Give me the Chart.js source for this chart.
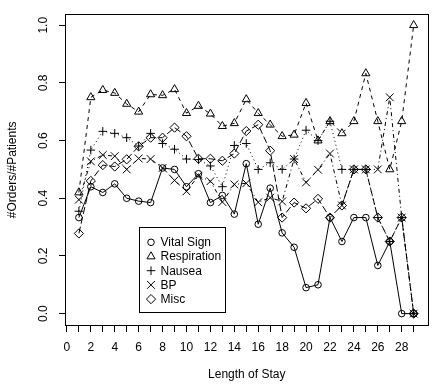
<!DOCTYPE html>
<html>
<head>
<meta charset="utf-8">
<script src="https://cdn.jsdelivr.net/npm/chart.js@4.4.1/dist/chart.umd.min.js"></script>
<style>
  html, body { margin: 0; padding: 0; background: #fff; }
  #wrap { width: 435px; height: 386px; }
</style>
</head>
<body>
<div id="wrap"><canvas id="chart" width="435" height="386"></canvas></div>
<script>
// length of stay (days)
const days = [1, 2, 3, 4, 5, 6, 7, 8, 9, 10, 11, 12, 13, 14, 15, 16, 17, 18, 19, 20, 21, 22, 23, 24, 25, 26, 27, 28, 29];

// #orders / #patients per category
const vitalSign   = [0.333, 0.44, 0.42, 0.45, 0.40, 0.39, 0.385, 0.505, 0.5, 0.44, 0.485, 0.385, 0.41, 0.345, 0.52, 0.31, 0.435, 0.28, 0.23, 0.09, 0.1, 0.333, 0.25, 0.333, 0.333, 0.167, 0.25, 0, 0];
const respiration = [0.42, 0.75, 0.775, 0.765, 0.727, 0.70, 0.76, 0.757, 0.778, 0.695, 0.72, 0.693, 0.65, 0.66, 0.743, 0.695, 0.655, 0.615, 0.62, 0.73, 0.60, 0.667, 0.625, 0.667, 0.833, 0.667, 0.5, 0.667, 1.0];
const nausea      = [0.355, 0.567, 0.632, 0.625, 0.61, 0.581, 0.625, 0.59, 0.57, 0.536, 0.534, 0.512, 0.44, 0.583, 0.59, 0.5, 0.523, 0.5, 0.536, 0.636, 0.6, 0.667, 0.5, 0.5, 0.5, 0.333, 0.25, 0.333, 0];
const bp          = [0.395, 0.528, 0.55, 0.546, 0.5, 0.538, 0.536, 0.505, 0.462, 0.424, 0.478, 0.459, 0.387, 0.448, 0.452, 0.386, 0.402, 0.389, 0.536, 0.455, 0.499, 0.555, 0.375, 0.5, 0.5, 0.5, 0.75, 0.333, 0];
const misc        = [0.278, 0.46, 0.515, 0.51, 0.535, 0.58, 0.61, 0.61, 0.645, 0.615, 0.537, 0.537, 0.53, 0.555, 0.633, 0.655, 0.565, 0.333, 0.385, 0.365, 0.398, 0.333, 0.375, 0.5, 0.5, 0.333, 0.25, 0.333, 0];

const seriesNames = ['Vital Sign', 'Respiration', 'Nausea', 'BP', 'Misc'];

const xTicks = [0, 1, 2, 3, 4, 5, 6, 7, 8, 9, 10, 11, 12, 13, 14, 15, 16, 17, 18, 19, 20, 21, 22, 23, 24, 25, 26, 27, 28, 29];
const yTicks = [0, 0.2, 0.4, 0.6, 0.8, 1.0];

const FONT = 'Liberation Sans, Arial, Helvetica, sans-serif';

// R-like symbols and line types
const styles = [
  { pointStyle: 'circle',   radius: 3.3, dash: [] },
  { pointStyle: 'triangle', radius: 4.7, dash: [4, 4] },
  { pointStyle: 'cross',    radius: 4.3, dash: [1, 3] },
  { pointStyle: 'crossRot', radius: 5.5, dash: [1, 3, 4, 3] },
  { pointStyle: 'rectRot',  radius: 4.6, dash: [7, 3] }
];

const allSeries = [vitalSign, respiration, nausea, bp, misc];

const datasets = allSeries.map((vals, i) => ({
  label: seriesNames[i],
  data: days.map((d, j) => ({ x: d, y: vals[j] })),
  borderColor: '#000',
  borderWidth: 1,
  borderDash: styles[i].dash,
  pointStyle: styles[i].pointStyle,
  pointRadius: styles[i].radius,
  pointBorderColor: '#000',
  pointBackgroundColor: 'rgba(0,0,0,0)',
  pointBorderWidth: 1,
  fill: false,
  tension: 0
}));

// box around the plot + legend inside the plot
const boxPlugin = {
  id: 'boxPlugin',
  afterDraw(chart) {
    const { ctx, chartArea: a, scales } = chart;
    ctx.save();
    ctx.strokeStyle = '#000';
    ctx.lineWidth = 1;
    ctx.setLineDash([]);
    ctx.strokeRect(Math.round(a.left) + 0.5, Math.round(a.top) + 0.5,
      Math.round(a.right - a.left) - 1, Math.round(a.bottom - a.top) - 1);

    // legend, top-left corner at (6, 0.3) in data units
    const lx = Math.round(scales.x.getPixelForValue(6)) + 0.5;
    const ly = Math.round(scales.y.getPixelForValue(0.3)) + 0.5;
    const w = 86, h = 85;
    ctx.fillStyle = '#fff';
    ctx.fillRect(lx, ly, w, h);
    ctx.strokeRect(lx, ly, w, h);

    ctx.font = '12px ' + FONT;
    ctx.textBaseline = 'middle';
    ctx.textAlign = 'left';
    seriesNames.forEach((name, i) => {
      const cy = ly + 14.8 + i * 14.2;
      ctx.strokeStyle = '#000';
      ctx.fillStyle = 'rgba(0,0,0,0)';
      ctx.lineWidth = 1;
      Chart.helpers.drawPoint(ctx, {
        pointStyle: styles[i].pointStyle,
        radius: styles[i].radius,
        rotation: 0,
        borderWidth: 1
      }, lx + 11.5, cy);
      ctx.fillStyle = '#000';
      ctx.fillText(name, lx + 21, cy + 0.5);
    });
    ctx.restore();
  }
};

new Chart(document.getElementById('chart'), {
  type: 'line',
  data: { datasets },
  options: {
    responsive: false,
    maintainAspectRatio: false,
    devicePixelRatio: 1,
    animation: false,
    events: [],
    layout: { padding: { top: 2, right: 3, left: 0, bottom: 0 } },
    plugins: {
      legend: { display: false },
      tooltip: { enabled: false }
    },
    scales: {
      x: {
        type: 'linear',
        min: -0.16,
        max: 30.24,
        afterBuildTicks: s => { s.ticks = xTicks.map(v => ({ value: v })); },
        afterFit: s => { s.height = 60; },
        border: { display: false },
        grid: { drawOnChartArea: false, drawTicks: true, tickLength: 6, color: '#000', lineWidth: 1 },
        ticks: {
          autoSkip: false,
          maxRotation: 0,
          minRotation: 0,
          padding: 8.5,
          color: '#000',
          font: { family: FONT, size: 12 },
          callback: v => (v % 2 === 0 && v <= 28 ? String(v) : '')
        },
        title: {
          display: true,
          text: 'Length of Stay',
          color: '#000',
          font: { family: FONT, size: 12 },
          padding: { top: 0, bottom: 4.6 }
        }
      },
      y: {
        type: 'linear',
        min: -0.043,
        max: 1.04,
        afterBuildTicks: s => { s.ticks = yTicks.map(v => ({ value: v })); },
        afterFit: s => { s.width = 65; },
        border: { display: false },
        grid: { drawOnChartArea: false, drawTicks: true, tickLength: 6, color: '#000', lineWidth: 1 },
        ticks: {
          minRotation: 90,
          maxRotation: 90,
          crossAlign: 'center',
          padding: 6.5,
          color: '#000',
          font: { family: FONT, size: 12 },
          callback: v => v.toFixed(1)
        },
        title: {
          display: true,
          text: '#Orders/#Patients',
          color: '#000',
          font: { family: FONT, size: 12 },
          padding: { top: 5.2, bottom: 0 }
        }
      }
    }
  },
  plugins: [boxPlugin]
});
</script>
</body>
</html>
